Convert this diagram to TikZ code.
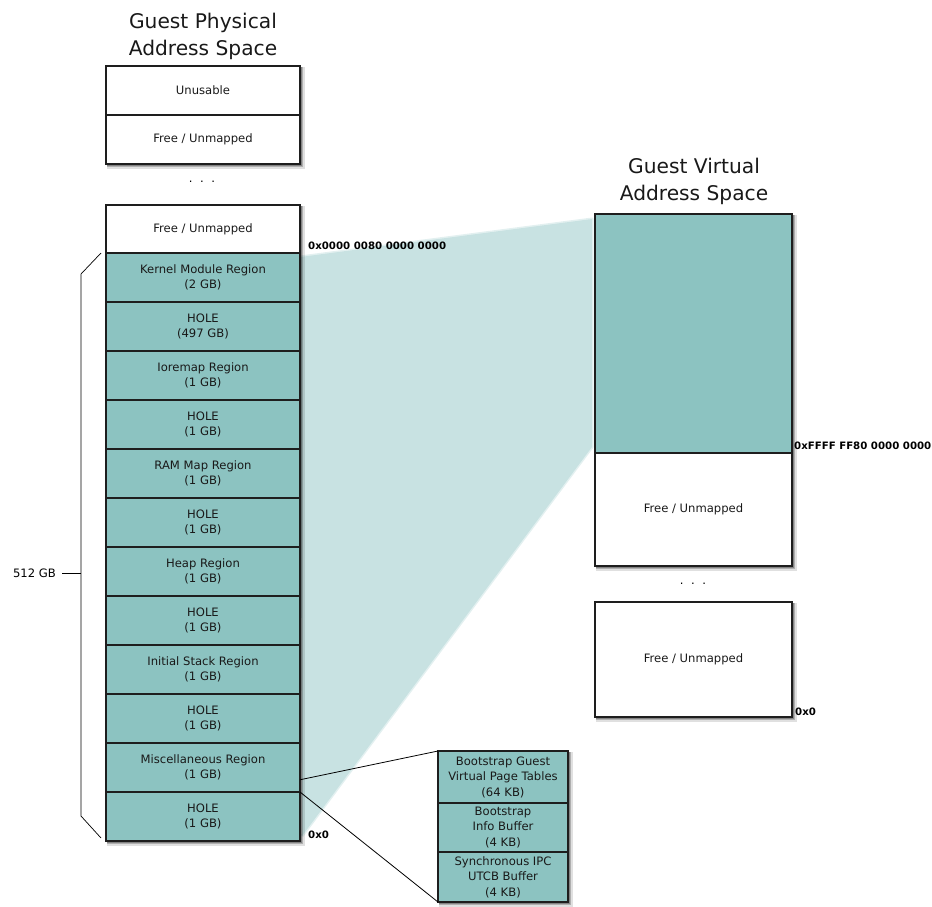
\documentclass[tikz,border=0pt]{standalone}
\usepackage{fontspec}
\setmainfont{DejaVu Sans}
\usetikzlibrary{calc}
\definecolor{region}{HTML}{8CC3C1}
\definecolor{wedge}{HTML}{C8E2E2}
\definecolor{edge}{HTML}{1E1E1E}

% soft drop shadow under a rectangle given by its corners (x1,y1) (x2,y2)
\newcommand\castshadow[4]{%
  \fill[black,opacity=.12] (#1+1,#2+1) rectangle (#3+4.5,#4+4.5);
  \fill[black,opacity=.22] (#1+1,#2+1) rectangle (#3+3,#4+3);
  \fill[black,opacity=.25] (#1+1,#2+1) rectangle (#3+1.8,#4+1.8);}

\begin{document}
\begin{tikzpicture}[x=1pt,y=-1pt,
  mem/.style={draw=edge, line width=1.6pt, inner sep=0pt, outer sep=0pt,
    align=center, font=\fontsize{11.6}{15}\selectfont, anchor=north,
    minimum width=194pt, text=black!90},
  used/.style={mem, fill=region, minimum height=49pt},
  free/.style={mem, fill=white},
  small/.style={mem, fill=region, minimum width=130pt, font=\fontsize{11.6}{15.5}\selectfont},
  addr/.style={font=\bfseries\fontsize{10.2}{12}\selectfont, anchor=west, inner sep=0pt},
  title/.style={font=\fontsize{20.2}{27}\selectfont, align=center, text=black!90},
  dots/.style={font=\fontsize{11.6}{13}\selectfont},
  link/.style={draw=black, line width=0.8pt},
]
\useasboundingbox (0,0) rectangle (932,906);

% mapping wedge between the two address spaces
\fill[wedge] (300,257) -- (592,219) -- (592,447) -- (302,836) -- cycle;
\draw[wedge, line width=3pt, opacity=.5, line join=round]
  (300,257) -- (592,219) -- (592,447) -- (302,836);

% titles
\node[title] (gpas) at (203,36) {Guest Physical\\Address Space};
\node[title] (gvas) at (694,181) {Guest Virtual\\Address Space};

% shadows of the stacks
\castshadow{106}{66}{300}{164}
\castshadow{106}{205}{300}{841}
\castshadow{595}{214}{792}{566}
\castshadow{595}{602}{792}{717}
\castshadow{438}{751}{568}{902}

% guest physical address space, top
\node[free, minimum height=49pt] (unusable) at (203,66) {Unusable};
\node[free, minimum height=49pt] (pfree1) at (unusable.south) {Free / Unmapped};
\node[dots] (pdots) at (202,182) {.\hspace{7.5pt}.\hspace{7.5pt}.};

% guest physical address space, lower part
\node[free, minimum height=48pt] (pfree2) at (203,205) {Free / Unmapped};
\node[used] (kern)  at (pfree2.south) {Kernel Module Region\\(2 GB)};
\node[used] (hole1) at (kern.south)   {HOLE\\(497 GB)};
\node[used] (iorm)  at (hole1.south)  {Ioremap Region\\(1 GB)};
\node[used] (hole2) at (iorm.south)   {HOLE\\(1 GB)};
\node[used] (ram)   at (hole2.south)  {RAM Map Region\\(1 GB)};
\node[used] (hole3) at (ram.south)    {HOLE\\(1 GB)};
\node[used] (heap)  at (hole3.south)  {Heap Region\\(1 GB)};
\node[used] (hole4) at (heap.south)   {HOLE\\(1 GB)};
\node[used] (stack) at (hole4.south)  {Initial Stack Region\\(1 GB)};
\node[used] (hole5) at (stack.south)  {HOLE\\(1 GB)};
\node[used] (misc)  at (hole5.south)  {Miscellaneous Region\\(1 GB)};
\node[used] (hole6) at (misc.south)   {HOLE\\(1 GB)};

\node[addr] (ptop) at ($(kern.north east)+(8,-7)$) {0x0000 0080 0000 0000};
\node[addr] (pzero) at ($(hole6.south east)+(8,-6)$) {0x0};

% brace spanning 512 GB
\coordinate (bt) at ($(kern.north west)+(-5,0)$);
\coordinate (bb) at ($(hole6.south west)+(-5,-3)$);
\coordinate (bm) at (81,573);
\draw[line width=0.7pt] (bt) -- (81,274) -- (81,816) -- (bb);
\node[font=\fontsize{11.6}{13}\selectfont, anchor=east, inner sep=0pt] (gb) at (56,573) {512 GB};
\draw[line width=0.7pt] (gb.east)+(6,0) -- (bm);

% guest virtual address space
\node[mem, fill=region, minimum width=197pt, minimum height=239pt] (vmap) at (693.5,214) {};
\node[free, minimum width=197pt, minimum height=113pt] (vfree1) at (vmap.south) {Free / Unmapped};
\node[dots] (vdots) at (693,584) {.\hspace{7.5pt}.\hspace{7.5pt}.};
\node[free, minimum width=197pt, minimum height=115pt] (vfree2) at (693.5,602) {Free / Unmapped};
\node[addr] (vtop) at ($(vmap.south east)+(2,-7)$) {0xFFFF FF80 0000 0000};
\node[addr] (vzero) at ($(vfree2.south east)+(3,-5)$) {0x0};

% miscellaneous region detail
\node[small, minimum height=52pt] (bgpt) at (503,751) {Bootstrap Guest\\Virtual Page Tables\\(64 KB)};
\node[small, minimum height=49pt] (binfo) at (bgpt.south) {Bootstrap\\Info Buffer\\(4 KB)};
\node[small, minimum height=50pt] (utcb) at (binfo.south) {Synchronous IPC\\UTCB Buffer\\(4 KB)};

\coordinate (mfrom) at ($(misc.south east)!0.25!(misc.north east)$);
\draw[link] (mfrom) -- (bgpt.north west);
\draw[link] (misc.south east) -- (utcb.south west);
\end{tikzpicture}
\end{document}
